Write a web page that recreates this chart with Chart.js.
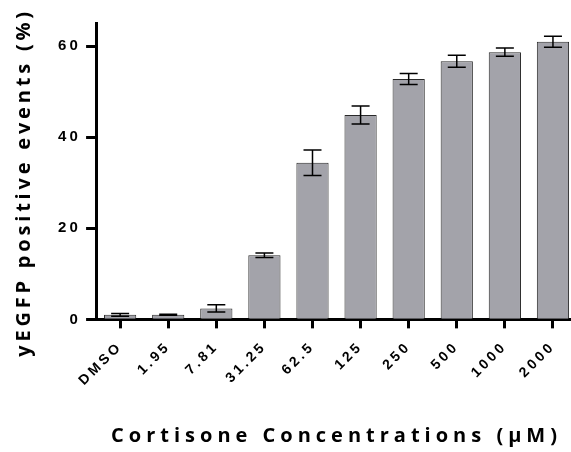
<!DOCTYPE html>
<html>
<head>
<meta charset="utf-8">
<script src="https://cdn.jsdelivr.net/npm/chart.js@4"></script>
<style>
    html, body { margin: 0; padding: 0; background: #fff; overflow: hidden; }
    #chart { display: block; }
</style>
</head>
<body>
<canvas id="chart" width="590" height="452"></canvas>
<script>
const categories = ['DMSO', '1.95', '7.81', '31.25', '62.5', '125', '250', '500', '1000', '2000'];
const meanValues = [1.0, 1.0, 2.4, 14.1, 34.4, 44.9, 52.8, 56.7, 58.7, 61.0];
const errorValues = [0.3, 0.1, 0.8, 0.5, 2.8, 2.0, 1.2, 1.3, 0.9, 1.2];
const yTicks = [0, 20, 40, 60];

const titleSpacing = { x: '5px', y: '3.8px' };
const titleShift = { x: [0, 0], y: [2, 11] };

// canvas letter spacing is reset whenever the canvas resizes, so set it before layout and draw
const spacingPlugin = {
    id: 'spacing',
    beforeLayout(chart) { chart.ctx.letterSpacing = '3.2px'; },
    beforeDraw(chart) {
        chart.ctx.letterSpacing = '3.2px';
        ['x', 'y'].forEach(id => {
            const scale = chart.scales[id];
            if (scale._spaced) return;
            const orig = scale.drawTitle.bind(scale);
            scale.drawTitle = function () {
                const ctx = this.ctx;
                const prev = ctx.letterSpacing;
                ctx.save();
                ctx.translate(titleShift[id][0], titleShift[id][1]);
                ctx.letterSpacing = titleSpacing[id];
                orig();
                ctx.restore();
                ctx.letterSpacing = prev;
            };
            scale._spaced = true;
        });
    }
};

const errorBarPlugin = {
    id: 'errorBars',
    afterDatasetsDraw(chart) {
        const ctx = chart.ctx;
        const yScale = chart.scales.y;
        const meta = chart.getDatasetMeta(0);
        ctx.save();
        ctx.strokeStyle = '#000';
        ctx.lineWidth = 1.5;
        meta.data.forEach((bar, i) => {
            const top = yScale.getPixelForValue(meanValues[i] + errorValues[i]);
            const bottom = yScale.getPixelForValue(meanValues[i] - errorValues[i]);
            const half = 9;
            ctx.beginPath();
            ctx.moveTo(bar.x, top);
            ctx.lineTo(bar.x, bottom);
            ctx.moveTo(bar.x - half, top);
            ctx.lineTo(bar.x + half, top);
            ctx.moveTo(bar.x - half, bottom);
            ctx.lineTo(bar.x + half, bottom);
            ctx.stroke();
        });
        ctx.restore();
    }
};

new Chart(document.getElementById('chart'), {
    type: 'bar',
    data: {
        labels: categories,
        datasets: [{
            data: meanValues,
            backgroundColor: '#a3a3aa',
            borderColor: '#2a2a2a',
            borderWidth: 1,
            categoryPercentage: 1,
            barPercentage: 0.67
        }]
    },
    options: {
        responsive: false,
        animation: false,
        layout: { padding: { top: 23.5, right: 13, left: 10, bottom: 4 } },
        plugins: {
            legend: { display: false },
            tooltip: { enabled: false }
        },
        scales: {
            x: {
                grid: {
                    offset: false,
                    drawOnChartArea: false,
                    tickLength: 9,
                    tickWidth: 3,
                    tickColor: '#000'
                },
                border: { color: '#000', width: 3 },
                ticks: {
                    color: '#000',
                    maxRotation: 45,
                    minRotation: 45,
                    padding: 10,
                    font: { family: 'Liberation Sans', size: 14, weight: 'bold' }
                },
                title: {
                    display: true,
                    text: 'Cortisone Concentrations (µM)',
                    color: '#000',
                    padding: { top: 25, bottom: 0 },
                    font: { family: 'Open Sans', size: 20, weight: 'bold' }
                }
            },
            y: {
                min: 0,
                max: 65,
                afterBuildTicks: axis => { axis.ticks = yTicks.map(v => ({ value: v })); },
                grid: {
                    drawOnChartArea: false,
                    tickLength: 10,
                    tickWidth: 3,
                    tickColor: '#000'
                },
                border: { color: '#000', width: 3 },
                ticks: {
                    color: '#000',
                    padding: 5,
                    font: { family: 'Liberation Sans', size: 15, weight: 'bold' }
                },
                title: {
                    display: true,
                    text: 'yEGFP positive events (%)',
                    color: '#000',
                    padding: { top: 0, bottom: 19 },
                    font: { family: 'Open Sans', size: 20, weight: 'bold' }
                }
            }
        }
    },
    plugins: [spacingPlugin, errorBarPlugin]
});
</script>
</body>
</html>
